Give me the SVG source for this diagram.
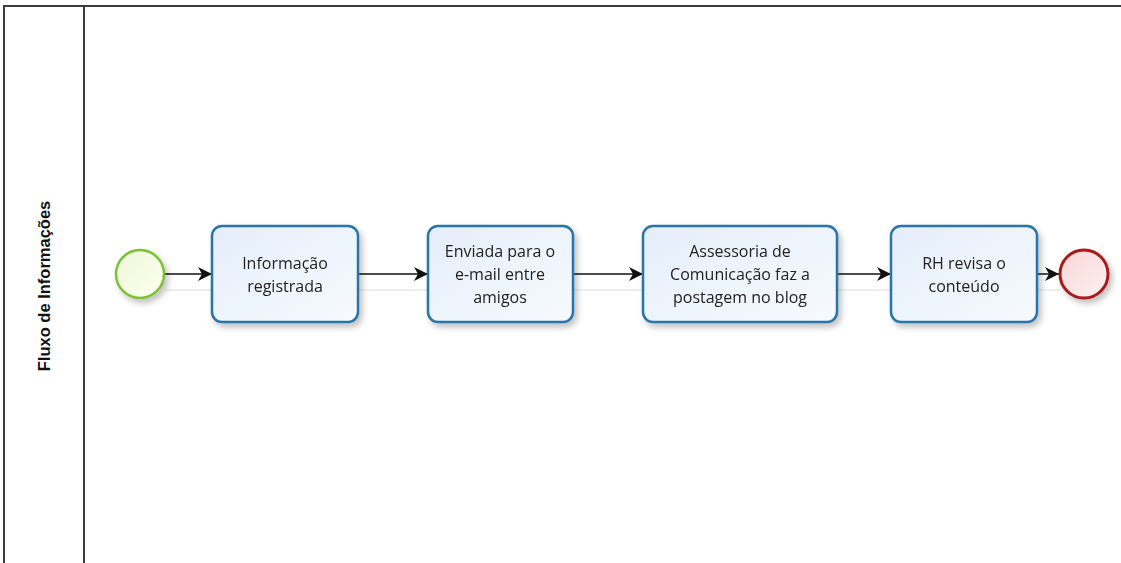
<svg xmlns="http://www.w3.org/2000/svg" width="1121" height="563" viewBox="0 0 1121 563">
<style>
.pool{fill:none;stroke:#3c3c3c;stroke-width:2}
.task{stroke:#2a75a8;stroke-width:2.5;fill:url(#tg)}
.lbl{font-family:"Open Sans","DejaVu Sans",sans-serif;font-size:16px;fill:#222;text-anchor:middle}
.flow{stroke:#111;stroke-width:1.5;fill:none;marker-end:url(#ah)}
.shade{stroke:#eeeeee;stroke-width:2}
</style>
<defs>
<linearGradient id="tg" x1="0" y1="0" x2="1" y2="1"><stop offset="0" stop-color="#e4eef9"/><stop offset="1" stop-color="#f7faff"/></linearGradient>
<linearGradient id="sg" x1="0" y1="0" x2="1" y2="1"><stop offset="0" stop-color="#eef7d8"/><stop offset="1" stop-color="#fdfff0"/></linearGradient>
<linearGradient id="eg" x1="0" y1="0" x2="1" y2="1"><stop offset="0" stop-color="#f8d8d8"/><stop offset="1" stop-color="#fdf0f0"/></linearGradient>
<filter id="sh" x="-20%" y="-20%" width="150%" height="150%"><feGaussianBlur in="SourceAlpha" stdDeviation="3"/><feOffset dx="3" dy="4"/><feComponentTransfer><feFuncA type="linear" slope="0.25"/></feComponentTransfer><feMerge><feMergeNode/><feMergeNode in="SourceGraphic"/></feMerge></filter>
<marker id="ah" viewBox="0 0 14 14" refX="14" refY="7" markerWidth="14" markerHeight="14" markerUnits="userSpaceOnUse" orient="auto"><path d="M0,0 L14,7 L0,14 L4,7 Z" fill="#111"/></marker>
</defs>
<g id="pool">
<path class="pool" d="M4,563 V6 H1121"/>
<line class="pool" x1="84" y1="6" x2="84" y2="563"/>
<text transform="translate(50,286) rotate(-90)" font-family="'Liberation Sans',Arial,sans-serif" font-size="16.5" font-weight="bold" fill="#111" text-anchor="middle">Fluxo de Informações</text>
</g>
<g id="shadows">
<line class="shade" x1="165" y1="290" x2="1060" y2="290"/>
</g>
<g id="connectors">
<line class="flow" x1="165" y1="274" x2="212" y2="274"/>
<line class="flow" x1="358" y1="274" x2="428" y2="274"/>
<line class="flow" x1="573" y1="274" x2="643" y2="274"/>
<line class="flow" x1="837" y1="274" x2="891" y2="274"/>
<line class="flow" x1="1037" y1="274" x2="1059" y2="274"/>
</g>
<g id="start" filter="url(#sh)"><circle cx="140" cy="274" r="24" fill="url(#sg)" stroke="#7cc034" stroke-width="2.5"/></g>
<g id="task1" filter="url(#sh)"><rect class="task" x="212" y="226" width="146" height="96" rx="10"/>
<text class="lbl"><tspan x="285" y="269">Informação</tspan><tspan x="285" y="292">registrada</tspan></text></g>
<g id="task2" filter="url(#sh)"><rect class="task" x="428" y="226" width="145" height="96" rx="10"/>
<text class="lbl"><tspan x="500" y="257">Enviada para o</tspan><tspan x="500" y="280">e-mail entre</tspan><tspan x="500" y="303">amigos</tspan></text></g>
<g id="task3" filter="url(#sh)"><rect class="task" x="643" y="226" width="194" height="96" rx="10"/>
<text class="lbl"><tspan x="740" y="257">Assessoria de</tspan><tspan x="740" y="280">Comunicação faz a</tspan><tspan x="740" y="303">postagem no blog</tspan></text></g>
<g id="task4" filter="url(#sh)"><rect class="task" x="891" y="226" width="146" height="96" rx="10"/>
<text class="lbl"><tspan x="964" y="269">RH revisa o</tspan><tspan x="964" y="292">conteúdo</tspan></text></g>
<g id="end" filter="url(#sh)"><circle cx="1084" cy="274" r="24" fill="url(#eg)" stroke="#a51d1d" stroke-width="3"/></g>
</svg>
